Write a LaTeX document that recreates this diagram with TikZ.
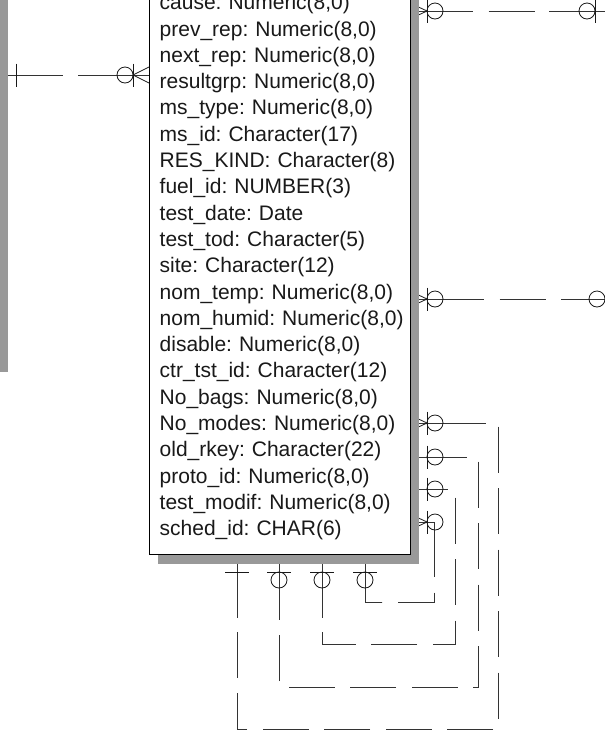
\documentclass[tikz,border=0pt]{standalone}
\usepackage{fontspec}
\setmainfont{Liberation Sans}
\usetikzlibrary{calc,positioning}

\tikzset{
  field/.style={inner sep=0pt, text width=250pt, align=left, text height=15pt, text depth=4.5pt,
    font=\fontsize{21pt}{26pt}\selectfont\frenchspacing, text=black!90},
  relline/.style={draw=black!80, line width=0.9pt},
  reldash/.style={relline, dash pattern=on 46pt off 15.5pt, dash phase=46pt},
  symb/.style={draw=black!90, line width=0.8pt},
  boxshadow/.style={fill=black!40},
  entity/.style={draw=black, line width=1pt, fill=white}
}

\begin{document}
\begin{tikzpicture}[x=1pt,y=-1pt,node distance=26.3pt]
  \useasboundingbox (0,0) rectangle (605,740);
  \clip (0,0) rectangle (605,740);
  \fill[white] (0,0) rectangle (605,740);

  \coordinate (ent_nw) at (149,-300);
  \coordinate (ent_se) at (410,554);
  \coordinate (lent_nw) at (-300,-300);
  \coordinate (lent_se) at (-1,362);

  %%%% left relationship
  \coordinate (lrel_a) at (-1,75);
  \coordinate (lrel_b) at (149,75);
  \draw[relline] (lrel_a) -- ++(64,0);
  \draw[relline] (lrel_b) -- ++(-71,0);
  \draw[symb] ($(lrel_a)+(17,-11.5)$) -- ++(0,23);
  \draw[symb] ($(lrel_b)+(-16,0)$) -- ++(16,-8) ($(lrel_b)+(-16,0)$) -- ++(16,8);
  \draw[symb] ($(lrel_b)+(-16,-11.5)$) -- ++(0,23);
  \draw[symb] ($(lrel_b)+(-24,0)$) circle[radius=8pt];

  %%%% top right relationship
  \coordinate (trel_a) at (410,11);
  \coordinate (trel_b) at (612,11);
  \draw[relline] (trel_a) -- ++(63,0) coordinate (trel_as);
  \draw[relline] (trel_b) -- ++(-63,0) coordinate (trel_bs);
  \draw[reldash] (trel_as) -- (trel_bs);
  \draw[symb] ($(trel_a)+(17,0)$) -- ++(-17,-8) ($(trel_a)+(17,0)$) -- ++(-17,8);
  \draw[symb] ($(trel_a)+(17,-11.5)$) -- ++(0,23);
  \draw[symb] ($(trel_a)+(25,0)$) circle[radius=8pt];
  \draw[symb] ($(trel_b)+(-17,-11.5)$) -- ++(0,23);
  \draw[symb] ($(trel_b)+(-25,0)$) circle[radius=8pt];

  %%%% middle right relationship
  \coordinate (mrel_a) at (410,299);
  \coordinate (mrel_b) at (622,299);
  \draw[relline] (mrel_a) -- ++(74,0) coordinate (mrel_as);
  \draw[relline] (mrel_b) -- ++(-61,0) coordinate (mrel_bs);
  \draw[reldash] (mrel_as) -- (mrel_bs);
  \draw[symb] ($(mrel_a)+(17,0)$) -- ++(-17,-8) ($(mrel_a)+(17,0)$) -- ++(-17,8);
  \draw[symb] ($(mrel_a)+(17,-11.5)$) -- ++(0,23);
  \draw[symb] ($(mrel_a)+(25,0)$) circle[radius=8pt];
  \draw[symb] ($(mrel_b)+(-25,0)$) circle[radius=8pt];

  %%%% recursive relationships
  \coordinate (s1_a) at (410,423);
  \coordinate (s1_c) at (498,729);
  \coordinate (s1_e) at (237,554);
  \draw[relline] (s1_a) -- ++(76,0) coordinate (s1_b);
  \draw[relline] (s1_e) -- ++(0,64) coordinate (s1_d);
  \draw[reldash] (s1_b) -| (s1_c) -| (s1_d);

  \coordinate (s2_a) at (410,457);
  \coordinate (s2_c) at (478,687);
  \coordinate (s2_e) at (279,554);
  \draw[relline] (s2_a) -- ++(57,0) coordinate (s2_b);
  \draw[relline] (s2_e) -- ++(0,64) coordinate (s2_d);
  \draw[reldash] (s2_b) -| (s2_c) -| (s2_d);

  \coordinate (s3_a) at (410,489);
  \coordinate (s3_c) at (455,644);
  \coordinate (s3_e) at (322,554);
  \draw[relline] (s3_a) -- ++(38,0) coordinate (s3_b);
  \draw[relline] (s3_e) -- ++(0,64) coordinate (s3_d);
  \draw[reldash] (s3_b) -| (s3_c) -| (s3_d);

  \coordinate (s4_a) at (410,522);
  \coordinate (s4_e) at (365,554);
  \draw[relline] (s4_a) -- ++(24,0) -- ++(0,55) coordinate (s4_b);
  \draw[relline] (s4_e) -- ++(0,48) -- ++(17,0) coordinate (s4_d);
  \draw[reldash] (s4_b) |- (s4_d);

  % ends at the right side
  \draw[symb] ($(s1_a)+(17,0)$) -- ++(-17,-8) ($(s1_a)+(17,0)$) -- ++(-17,8);
  \draw[symb] ($(s1_a)+(17,-11.5)$) -- ++(0,23);
  \draw[symb] ($(s1_a)+(25,0)$) circle[radius=8pt];
  \draw[symb] ($(s2_a)+(17,-11.5)$) -- ++(0,23);
  \draw[symb] ($(s2_a)+(25,0)$) circle[radius=8pt];
  \draw[symb] ($(s3_a)+(17,-11.5)$) -- ++(0,23);
  \draw[symb] ($(s3_a)+(25,0)$) circle[radius=8pt];
  \draw[symb] ($(s4_a)+(17,0)$) -- ++(-17,-8) ($(s4_a)+(17,0)$) -- ++(-17,8);
  \draw[symb] ($(s4_a)+(17,-11.5)$) -- ++(0,23);
  \draw[symb] ($(s4_a)+(25,0)$) circle[radius=8pt];

  % ends at the bottom
  \draw[symb] ($(s1_e)+(-12,18)$) -- ++(24,0);
  \draw[symb] ($(s2_e)+(-12,18)$) -- ++(24,0);
  \draw[symb] ($(s2_e)+(0,26)$) circle[radius=8pt];
  \draw[symb] ($(s3_e)+(-12,18)$) -- ++(24,0);
  \draw[symb] ($(s3_e)+(0,26)$) circle[radius=8pt];
  \draw[symb] ($(s4_e)+(-12,18)$) -- ++(24,0);
  \draw[symb] ($(s4_e)+(0,26)$) circle[radius=8pt];

  %%%% entities
  \fill[boxshadow] ($(lent_nw)+(9,10)$) rectangle ($(lent_se)+(9,10)$);
  \draw[entity] (lent_nw) rectangle (lent_se);
  \fill[boxshadow] ($(ent_nw)+(9,10)$) rectangle ($(ent_se)+(9,10)$);
  \draw[entity] (ent_nw) rectangle (ent_se);

  \node[field, anchor=base west] (cause) at (159.5,9.7) {cause: Numeric(8,0)};
  \node[field, below of=cause] (prev_rep) {prev\_rep: Numeric(8,0)};
  \node[field, below of=prev_rep] (next_rep) {next\_rep: Numeric(8,0)};
  \node[field, below of=next_rep] (resultgrp) {resultgrp: Numeric(8,0)};
  \node[field, below of=resultgrp] (ms_type) {ms\_type: Numeric(8,0)};
  \node[field, below of=ms_type] (ms_id) {ms\_id: Character(17)};
  \node[field, below of=ms_id] (res_kind) {RES\_KIND: Character(8)};
  \node[field, below of=res_kind] (fuel_id) {fuel\_id: NUMBER(3)};
  \node[field, below of=fuel_id] (test_date) {test\_date: Date};
  \node[field, below of=test_date] (test_tod) {test\_tod: Character(5)};
  \node[field, below of=test_tod] (site) {site: Character(12)};
  \node[field, below of=site] (nom_temp) {nom\_temp: Numeric(8,0)};
  \node[field, below of=nom_temp] (nom_humid) {nom\_humid: Numeric(8,0)};
  \node[field, below of=nom_humid] (disable) {disable: Numeric(8,0)};
  \node[field, below of=disable] (ctr_tst_id) {ctr\_tst\_id: Character(12)};
  \node[field, below of=ctr_tst_id] (no_bags) {No\_bags: Numeric(8,0)};
  \node[field, below of=no_bags] (no_modes) {No\_modes: Numeric(8,0)};
  \node[field, below of=no_modes] (old_rkey) {old\_rkey: Character(22)};
  \node[field, below of=old_rkey] (proto_id) {proto\_id: Numeric(8,0)};
  \node[field, below of=proto_id] (test_modif) {test\_modif: Numeric(8,0)};
  \node[field, below of=test_modif] (sched_id) {sched\_id: CHAR(6)};
\end{tikzpicture}
\end{document}
